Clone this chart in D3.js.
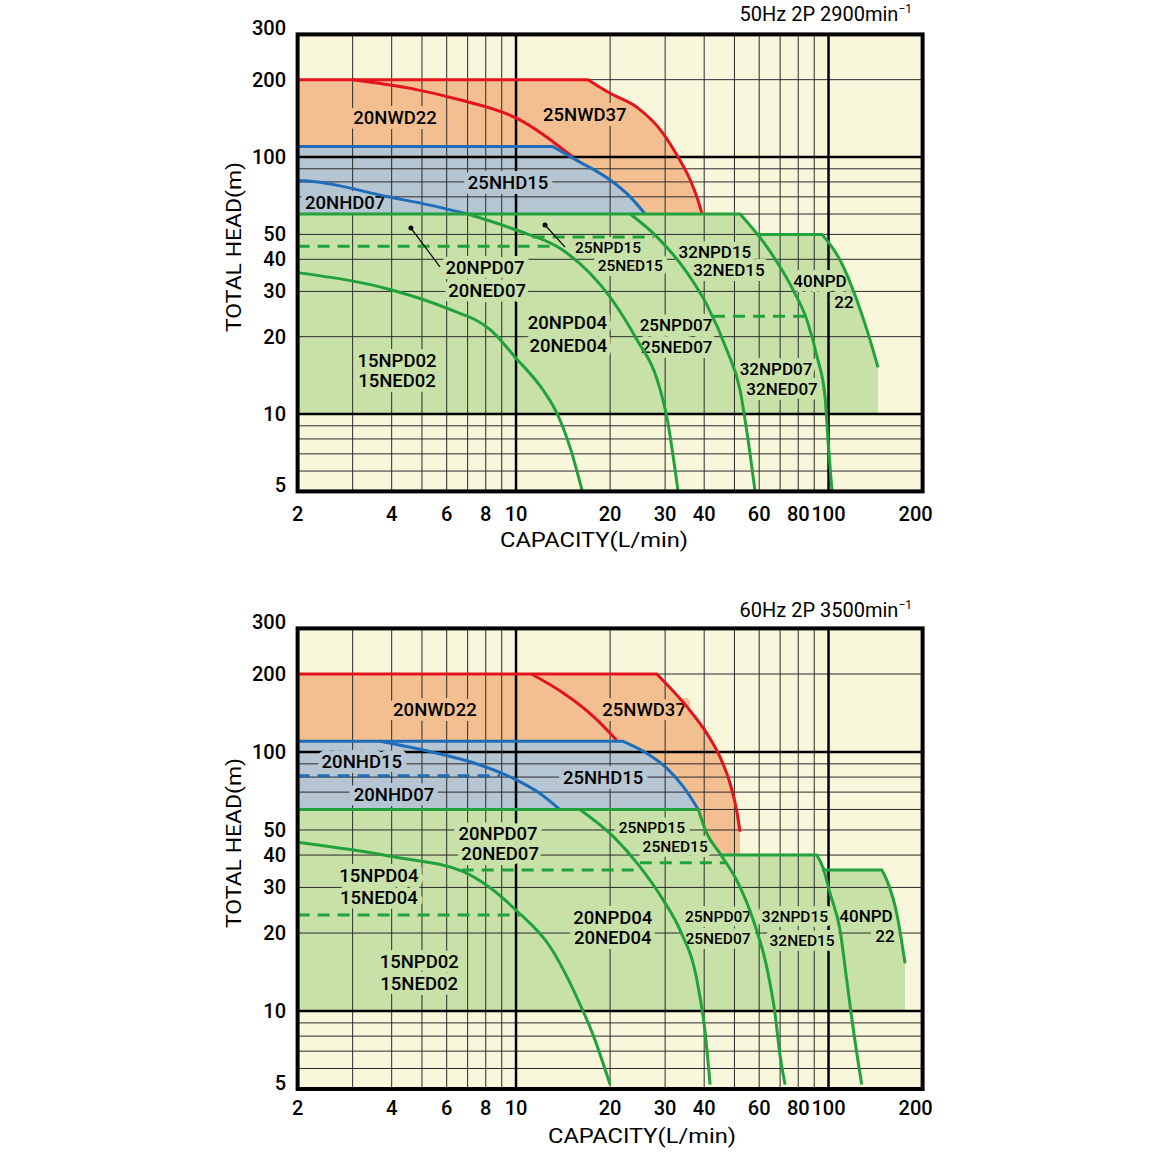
<!DOCTYPE html>
<html>
<head>
<meta charset="utf-8">
<script src="https://cdn.jsdelivr.net/npm/d3@7"></script>
<style>
body{margin:0;background:#fff;}
text{font-family:Roboto,"Noto Sans",sans-serif;fill:#000;}
</style>
</head>
<body>
<svg id="chart" width="1152" height="1152"></svg>
<script>
/*
  Pump performance charts, 50Hz and 60Hz
*/
//Axis ticks and grid
var xTicks=[2,4,6,8,10,20,30,40,60,80,100,200];
var yTicks=[5,10,20,30,40,50,100,200,300];
var vGrid=[3,4,5,6,7,8,9,20,30,40,50,60,70,80,90];
var hGrid=[6,7,8,9,20,30,40,50,60,70,80,90,200];
var thickGrid=[10,100];

// 50Hz curves : [capacity L/min, head m]
var nwd37_50=[[2,200],[17,200],[20,177],[24.4,156],[29.5,124],[33,100],[36.1,81.4],[38.2,68],[39.4,60]];
var nwd22_50=[[3,200],[4.6,185],[6.6,167],[10,142],[15.2,100]];
var nhd15_50=[[2,110],[13.1,110],[15.2,99],[20,81.4],[23.2,70],[25.9,60]];
var nhd07_50=[[2,81],[2.2,80.5],[3.9,70],[5.3,65],[7,60]];
var npd02_50=[[2,35.5],[4,30.4],[6,25.8],[8.3,21.2],[10,16.5],[12.2,12.4],[13.5,10.1],[14.9,7.4],[16.3,5]];
var npd04_50=[[7,60],[10,52],[14.1,43.5],[20,28.5],[24.4,19.4],[28.3,13.6],[30.4,9.7],[33,5]];
var npd07_50=[[23.2,60],[28.3,48.8],[35.3,35.4],[40.8,26.6],[47.3,17.7],[52.1,12.4],[55.3,7.9],[58.2,5]];
var npd15_50=[[2,60],[52.1,60],[63.6,44.6],[77,30.4],[85.3,23.2],[91.9,16.7],[97.5,11.6],[99.6,7.9],[102.6,5]];
var npd22_50=[[59,50],[95.3,50],[108.9,39.7],[119.8,30.4],[132.8,21.2],[144,15.2]];
var dash_50=[[[2,45],[12.9,45]],[[11.3,48.8],[27.6,48.8]],[[42.7,24],[85.5,24]]];
var leaders_50=[[[4.61,52.9],[5.71,37.4]],[[12.38,54.4],[14.35,44.6]]];

// 60Hz curves : [capacity L/min, head m]
var nwd37_60=[[2,200],[28.2,200],[35.2,149.6],[40.8,118],[44.9,95.9],[48.4,75.7],[50.8,59.7],[52.1,49.2]];
var nwd22_60=[[11.2,200],[14.2,168.5],[17.7,137],[21,111]];
var nhd25_60=[[2,110],[22,110],[26.2,98.9],[30.4,86.5],[34.3,73.5],[38.3,60]];
var nhd20_60=[[3.67,110],[5.31,100.3],[7.67,89.1],[9.8,79.1],[11.9,69.3],[13.8,60]];
var npd02_60=[[2,44.8],[4.05,39.4],[6.78,34.5],[8.26,29.9],[10,24.5],[12.85,17.7],[15.6,11.4],[17.7,8],[20,5.2]];
var npd04_60=[[16,60],[20.5,47.1],[24.9,36.1],[29.6,26.8],[33.5,20.5],[37.9,13.2],[40.2,8.45],[41.8,5.2]];
var npd07_60=[[2,60],[38.3,60],[40.8,48.5],[44.9,40.6],[50.8,32],[57.4,22.5],[63.4,14.8],[67.4,9.8],[70,6.7],[72.6,5.2]];
var npd15_60=[[45.5,40],[91.7,40],[96.2,35.6],[101.1,28.5],[108.9,20.5],[114.3,13.2],[120.1,8.45],[127.7,5.2]];
var npd22_60=[[95.5,35],[148,35],[153.6,32],[165.3,23.8],[175.7,15.3]];
var dashG_60=[[[2,23.5],[10.3,23.5]],[[6.7,35],[24.3,35]],[[24.9,37.4],[47.3,37.4]]];
var dashB_60=[[[2,81],[8.9,81]]];

// Labels : [[text, capacity, head], ...lines], background
var labels_50=[
 [[["20NWD22",4.1,142]],"o"],[[["25NWD37",16.6,145.7]],"o"],[[["25NHD15",9.43,79.2]],"b"],[[["20NHD07",2.84,66.2]],"b"],
 [[["20NPD07",7.96,37],["20NED07",8.08,30.1]],"g"],
 [[["25NPD15",19.7,44.3],["25NED15",23.2,37.7]],"g"],
 [[["32NPD15",43.3,42.7],["32NED15",48,36.3]],"g"],
 [[["40NPD",93.9,32.9],["22",112.1,27.3]],"g"],
 [[["20NPD04",14.6,22.6],["20NED04",14.7,18.4]],"g"],
 [[["25NPD07",32.5,22.2],["25NED07",32.7,18.2]],"g"],
 [[["15NPD02",4.16,16.1],["15NED02",4.16,13.4]],"g"],
 [[["32NPD07",67.9,15],["32NED07",71,12.5]],"g"]];
var labels_60=[
 [[["20NWD22",5.5,145.3]],"o"],[[["25NWD37",25.7,145.3]],"o"],[[["20NHD15",3.21,91.5]],"b"],[[["25NHD15",19,79.4]],"b"],
 [[["20NHD07",4.07,68.2]],"b"],
 [[["20NPD07",8.76,48.2],["20NED07",8.89,40.4]],"g"],
 [[["25NPD15",27.2,50.9],["25NED15",32.3,43]],"g"],
 [[["15NPD04",3.64,33.2],["15NED04",3.64,27.3]],"g"],
 [[["20NPD04",20.4,22.9],["20NED04",20.4,19.1]],"g"],
 [[["25NPD07",44.3,23.1],["25NED07",44.3,19]],"g"],
 [[["32NPD15",78.1,23.1],["32NED15",82.3,18.6]],"g"],
 [[["40NPD",131.8,23.3],["22",151.6,19.5]],"g"],
 [[["15NPD02",4.9,15.5],["15NED02",4.9,12.7]],"g"]];
var medium_50=["32NPD15","40NPD","25NPD07","32NPD07"];
var small_50=["25NPD15"];
var medium_60=["40NPD"];
var small_60=["25NPD15","25NPD07","32NPD15"];

//Color Setting
var cream="#F8F7DB", orangeFill="#F3BF90", blueFill="#B5C5D2", greenFill="#C8E1A8",
    red="#E3141E", blue="#1E6DB8", green="#22A23C", grid="#2b2b2b";
var bgColor={o:orangeFill,b:blueFill,g:greenFill};

var svg=d3.select("#chart");

var panels=[
 {top:34.4, bottom:491.4, title:"50Hz 2P 2900min", titleY:21, tickY:521, capX:594, capY:547, headY:247,
  orange:[nwd37_50], blue:[nhd15_50], green:[npd15_50,[[2,50]].concat(npd22_50)],
  redLines:[nwd37_50,nwd22_50], blueLines:[nhd15_50,nhd07_50],
  greenLines:[npd02_50,npd04_50,npd07_50,npd15_50,npd22_50],
  greenDash:dash_50, blueDash:[], leaders:leaders_50, labels:labels_50, medium:medium_50, small:small_50},
 {top:628.4, bottom:1089, title:"60Hz 2P 3500min", titleY:617, tickY:1115, capX:642, capY:1143, headY:843,
  orange:[nwd37_60], blue:[nhd25_60],
  green:[npd07_60,[[2,40]].concat(npd15_60),[[2,35]].concat(npd22_60)],
  redLines:[nwd37_60,nwd22_60], blueLines:[nhd25_60,nhd20_60],
  greenLines:[npd02_60,npd04_60,npd07_60,npd15_60,npd22_60],
  greenDash:dashG_60, blueDash:dashB_60, leaders:[], labels:labels_60, medium:medium_60, small:small_60}
];

// flat start drawn straight, the falling part smoothed
function curvePath(pts,x,y){
  var lin=d3.line().x(function(d){return x(d[0]);}).y(function(d){return y(d[1]);});
  var mono=d3.line().x(function(d){return x(d[0]);}).y(function(d){return y(d[1]);}).curve(d3.curveMonotoneX);
  var i=0;
  while(i<pts.length-1 && pts[i+1][1]===pts[i][1]) i++;
  var s="";
  if(i>0) s+=lin(pts.slice(0,i+1));
  if(i<pts.length-1){
    var m=mono(pts.slice(i));
    s+= i>0 ? "L"+m.slice(1) : m;
  }
  return s;
}

function drawPanel(p,k){
  var x=d3.scaleLog().domain([2,200]).range([297.6,922.6]);
  var y=d3.scaleLog().domain([5,300]).range([p.bottom,p.top]);
  var g=svg.append("g");

  g.append("rect").attr("x",x(2)).attr("y",y(300)).attr("width",x(200)-x(2)).attr("height",y(5)-y(300)).attr("fill",cream);

  //fills, kept above 10 m
  g.append("clipPath").attr("id","clip"+k).append("rect")
   .attr("x",x(2)).attr("y",y(300)).attr("width",x(200)-x(2)).attr("height",y(10)-y(300));
  var fills=g.append("g").attr("clip-path","url(#clip"+k+")");
  function area(pts){
    return curvePath(pts,x,y)+"L"+x(pts[pts.length-1][0])+","+y(5)+"L"+x(pts[0][0])+","+y(5)+"Z";
  }
  [[p.orange,orangeFill],[p.blue,blueFill],[p.green,greenFill]].forEach(function(f){
    fills.selectAll(null).data(f[0]).enter().append("path").attr("d",area).attr("fill",f[1]);
  });

  //grid
  g.selectAll(null).data(vGrid).enter().append("line")
   .attr("x1",x).attr("x2",x).attr("y1",y(300)).attr("y2",y(5)).attr("stroke",grid).attr("stroke-width",1);
  g.selectAll(null).data(hGrid).enter().append("line")
   .attr("x1",x(2)).attr("x2",x(200)).attr("y1",y).attr("y2",y).attr("stroke",grid).attr("stroke-width",1);
  g.selectAll(null).data(thickGrid).enter().append("line")
   .attr("x1",x).attr("x2",x).attr("y1",y(300)).attr("y2",y(5)).attr("stroke","#000").attr("stroke-width",2.5);
  g.selectAll(null).data(thickGrid).enter().append("line")
   .attr("x1",x(2)).attr("x2",x(200)).attr("y1",y).attr("y2",y).attr("stroke","#000").attr("stroke-width",2.5);

  //curve labels, with a halo of the region colour
  var size=function(first){
    return p.small.indexOf(first)>=0?"15.5px":(p.medium.indexOf(first)>=0?"17px":"18.5px");
  };
  var lab=g.selectAll(null).data(p.labels).enter().append("text")
   .attr("text-anchor","middle").attr("dominant-baseline","central")
   .style("font-size",function(d){return size(d[0][0][0]);}).style("font-weight",500)
   .style("stroke",function(d){return bgColor[d[1]];}).style("stroke-width",10).style("stroke-linejoin","round")
   .style("paint-order","stroke");
  lab.selectAll("tspan").data(function(d){return d[0];}).enter().append("tspan")
   .attr("x",function(d){return x(d[1]);}).attr("y",function(d){return y(d[2]);})
   .text(function(d){return d[0];});

  //curves
  function lines(data,color,dash){
    g.selectAll(null).data(data).enter().append("path")
     .attr("d",function(d){return curvePath(d,x,y);})
     .attr("fill","none").attr("stroke",color).attr("stroke-width",3)
     .attr("stroke-dasharray",dash?"12,8":null);
  }
  lines(p.redLines,red,false);
  lines(p.blueLines,blue,false);
  lines(p.greenLines,green,false);
  lines(p.greenDash,green,true);
  lines(p.blueDash,blue,true);

  //leader lines
  g.selectAll(null).data(p.leaders).enter().append("line")
   .attr("x1",function(d){return x(d[0][0]);}).attr("y1",function(d){return y(d[0][1]);})
   .attr("x2",function(d){return x(d[1][0]);}).attr("y2",function(d){return y(d[1][1]);})
   .attr("stroke","#000").attr("stroke-width",1.2);
  g.selectAll(null).data(p.leaders).enter().append("circle")
   .attr("cx",function(d){return x(d[0][0]);}).attr("cy",function(d){return y(d[0][1]);})
   .attr("r",2.5).attr("fill","#000");

  //frame
  g.append("rect").attr("x",x(2)).attr("y",y(300)).attr("width",x(200)-x(2)).attr("height",y(5)-y(300))
   .attr("fill","none").attr("stroke","#000").attr("stroke-width",4);

  //tick labels
  g.selectAll(null).data(yTicks).enter().append("text")
   .attr("x",286).attr("y",function(d){return y(d)+((d===300||d===5)?-6:0);})
   .attr("text-anchor","end").attr("dominant-baseline","central").style("font-size","20px").style("font-weight",500)
   .text(function(d){return d;});
  g.selectAll(null).data(xTicks).enter().append("text")
   .attr("x",function(d){return x(d)+(d===200?-7:0);}).attr("y",p.tickY)
   .attr("text-anchor","middle").style("font-size","20px").style("font-weight",500)
   .text(function(d){return d;});

  //titles
  var t=g.append("text").attr("x",912).attr("y",p.titleY).attr("text-anchor","end").style("font-size","20px").text(p.title);
  t.append("tspan").attr("dy",-8).style("font-size","12px").text("\u22121");
  g.append("text").attr("x",p.capX).attr("y",p.capY).attr("text-anchor","middle").style("font-size","20px")
   .attr("textLength",188).attr("lengthAdjust","spacingAndGlyphs").text("CAPACITY(L/min)");
  g.append("text").attr("transform","translate(241,"+p.headY+") rotate(-90)").attr("text-anchor","middle")
   .style("font-size","20px").attr("textLength",170).attr("lengthAdjust","spacingAndGlyphs").text("TOTAL HEAD(m)");
}

panels.forEach(drawPanel);
</script>
</body>
</html>
